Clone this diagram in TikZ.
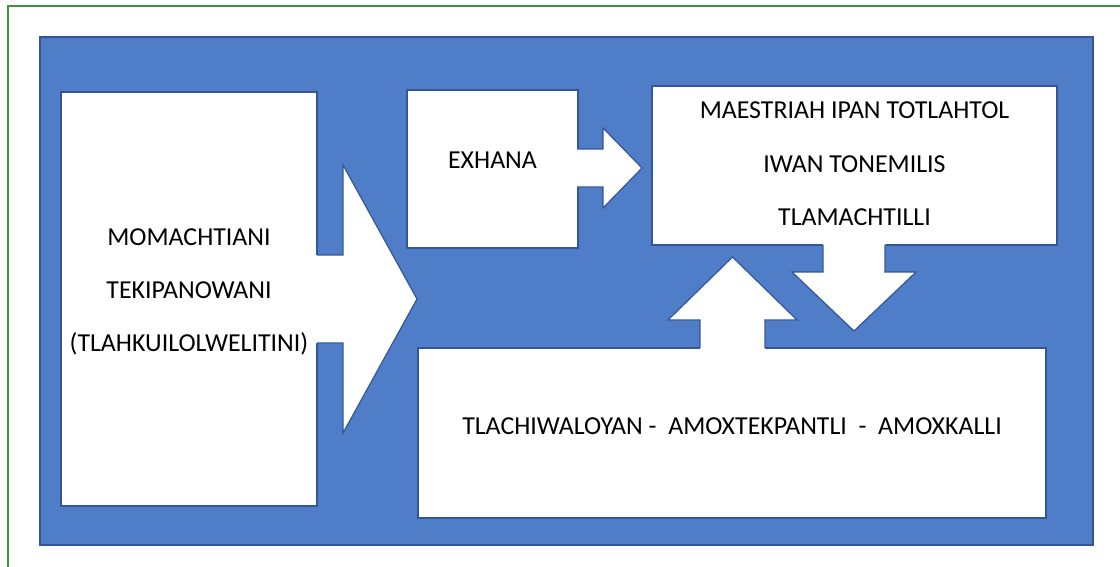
\documentclass[tikz,border=0pt]{standalone}
\usepackage{fontspec}
\setmainfont{Carlito}
\definecolor{blockblue}{RGB}{79,125,200}
\definecolor{edgeblue}{RGB}{50,86,150}
\definecolor{framegreen}{RGB}{58,152,58}

\begin{document}
\begin{tikzpicture}[x=0.75pt,y=-0.75pt,
  box/.style={draw=edgeblue,fill=white,line width=0.9pt,inner sep=0pt},
  boxtext/.style={font=\fontsize{19.4}{40}\selectfont,align=center,inner sep=0pt},
  arrowedge/.style={draw=edgeblue,line width=0.9pt,line join=miter}]
  \useasboundingbox (0,0) rectangle (1120,567);
  \draw[framegreen,line width=1.7pt] (8,567) |- (1120,6);
  \draw[edgeblue,fill=blockblue,line width=1pt] (40,37) rectangle (1093,545);

  % white boxes
  \node[box,minimum width=192pt,minimum height=310.5pt] (student) at (189,299) {};
  \node[box,minimum width=128.25pt,minimum height=118.5pt] (exhana) at (492.5,169) {};
  \node[box,minimum width=303.75pt,minimum height=119.25pt] (master) at (854.5,165.5) {};
  \node[box,minimum width=471pt,minimum height=127.5pt] (library) at (732,433) {};

  % block arrows
  \fill[white] (312,255) -- (343,255) -- (343,165) -- (417,299) -- (343,433) -- (343,343) -- (312,343) -- cycle;
  \draw[arrowedge] (317,255) -- (343,255) -- (343,165) -- (417,299) -- (343,433) -- (343,343) -- (317,343);
  \fill[white] (572,149) -- (603,149) -- (603,128) -- (642,168) -- (603,208) -- (603,187) -- (572,187) -- cycle;
  \draw[arrowedge] (577,149) -- (603,149) -- (603,128) -- (642,168) -- (603,208) -- (603,187) -- (577,187);
  \fill[white] (823,240) -- (823,272) -- (792,272) -- (854,331) -- (916,272) -- (885,272) -- (885,240) -- cycle;
  \draw[arrowedge] (823,245) -- (823,272) -- (792,272) -- (854,331) -- (916,272) -- (885,272) -- (885,245);
  \fill[white] (700,353) -- (700,320) -- (668,320) -- (732.5,257) -- (797,320) -- (765,320) -- (765,353) -- cycle;
  \draw[arrowedge] (700,348) -- (700,320) -- (668,320) -- (732.5,257) -- (797,320) -- (765,320) -- (765,348);

  % texts
  \node[boxtext] (studenttext) at (189,292) {MOMACHTIANI\\TEKIPANOWANI\\(TLAHKUILOLWELITINI)};
  \node[boxtext] (exhanatext) at (492.5,160) {EXHANA};
  \node[boxtext] (mastertext) at (854.5,164) {MAESTRIAH IPAN TOTLAHTOL\\IWAN TONEMILIS\\TLAMACHTILLI};
  \node[boxtext] (librarytext) at (732,426) {TLACHIWALOYAN -\ \ AMOXTEKPANTLI \ - \ AMOXKALLI};
\end{tikzpicture}
\end{document}
